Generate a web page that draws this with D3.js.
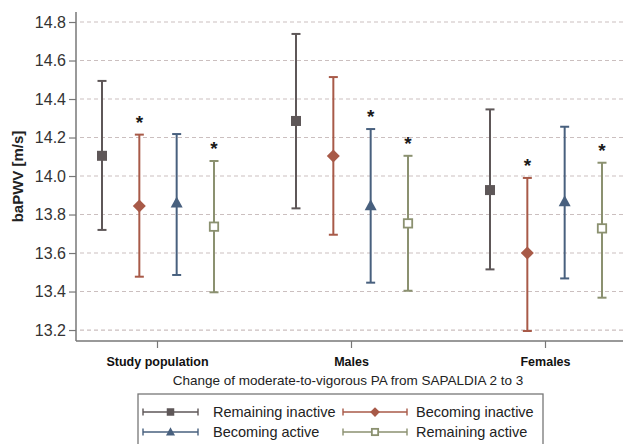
<!DOCTYPE html>
<html><head><meta charset="utf-8">
<script src="https://cdn.jsdelivr.net/npm/d3@7"></script>
<style>body{margin:0;background:#fff;}svg{display:block;font-family:"Liberation Sans",Arial,sans-serif;}</style>
</head><body><svg id="c" width="627" height="444"></svg>
<script>
const groups = ["Study population", "Males", "Females"];
const seriesNames = ["Remaining inactive", "Becoming inactive", "Becoming active", "Remaining active"];
const seriesColors = ["#5e5758", "#a85a48", "#48607e", "#8b9170"];
const seriesSymbols = ["square", "diamond", "triangle", "openSquare"];
// mean values per series, in group order
const meanRI = [14.105, 14.286, 13.927];
const meanBI = [13.844, 14.104, 13.600];
const meanBA = [13.860, 13.845, 13.866];
const meanRA = [13.737, 13.754, 13.728];
const lowRI = [13.720, 13.832, 13.515];
const lowBI = [13.477, 13.695, 13.195];
const lowBA = [13.486, 13.446, 13.468];
const lowRA = [13.396, 13.404, 13.368];
const highRI = [14.494, 14.738, 14.346];
const highBI = [14.215, 14.514, 13.990];
const highBA = [14.218, 14.244, 14.256];
const highRA = [14.078, 14.105, 14.069];
const starRI = [false, false, false];
const starBI = [true, false, true];
const starBA = [false, true, false];
const starRA = [true, true, true];
const yTicks = [13.2, 13.4, 13.6, 13.8, 14.0, 14.2, 14.4, 14.6, 14.8];
const yTitle = "baPWV [m/s]";
const xTitle = "Change of moderate-to-vigorous PA from SAPALDIA 2 to 3";

const means = [meanRI, meanBI, meanBA, meanRA];
const lows = [lowRI, lowBI, lowBA, lowRA];
const highs = [highRI, highBI, highBA, highRA];
const stars = [starRI, starBI, starBA, starRA];

const svg = d3.select("#c");
const L = 76, R = 623, T = 12, B = 341;
const y = d3.scaleLinear().domain([13.143, 14.852]).range([B, T]);
const x = d3.scalePoint().domain(groups).range([157, 545]);
const xo = d3.scalePoint().domain(seriesNames).range([-55, 57]);

// grid
svg.append("g").selectAll("line").data(yTicks).join("line")
  .attr("x1", L + 4).attr("x2", R).attr("y1", d => y(d)).attr("y2", d => y(d))
  .attr("stroke", "#cbbfbf").attr("stroke-width", 1.2).attr("stroke-dasharray", "4,3");

// y axis
const ya = svg.append("g").attr("transform", `translate(${L},0)`)
  .call(d3.axisLeft(y).tickValues(yTicks).tickFormat(d3.format(".1f")).tickSize(7).tickPadding(3));
ya.select(".domain").attr("d", `M0,${T}V${B}`).attr("stroke", "#777").attr("stroke-width", 1.5);
ya.selectAll(".tick line").attr("stroke", "#777").attr("stroke-width", 1.2);
ya.selectAll(".tick text").attr("font-size", 16).attr("fill", "#333").attr("font-family", "Liberation Sans, Arial, sans-serif");

// x axis
const xa = svg.append("g").attr("transform", `translate(0,${B})`)
  .call(d3.axisBottom(x).tickSize(7).tickPadding(9));
xa.select(".domain").attr("d", `M${L},0H${R}`).attr("stroke", "#777").attr("stroke-width", 1.5);
xa.selectAll(".tick line").attr("stroke", "#777").attr("stroke-width", 1.2);
xa.selectAll(".tick text").attr("font-size", 12.5).attr("font-weight", "bold").attr("fill", "#111")
  .attr("font-family", "Liberation Sans, Arial, sans-serif");

// titles
svg.append("text").attr("x", 348).attr("y", 385).attr("text-anchor", "middle")
  .attr("font-size", 13.5).attr("fill", "#222").text(xTitle);
svg.append("text").attr("transform", `translate(23,${(T + B) / 2}) rotate(-90)`).attr("text-anchor", "middle")
  .attr("font-size", 15).attr("font-weight", "bold").attr("fill", "#222").text(yTitle);

function drawSymbol(g, kind, cx, cy, color, scale) {
  const s = scale || 1;
  if (kind === "square") {
    g.append("rect").attr("x", cx - 5 * s).attr("y", cy - 5 * s).attr("width", 10 * s).attr("height", 10 * s).attr("fill", color);
  } else if (kind === "diamond") {
    g.append("path").attr("d", `M${cx},${cy - 6.5 * s}L${cx + 6.5 * s},${cy}L${cx},${cy + 6.5 * s}L${cx - 6.5 * s},${cy}Z`).attr("fill", color);
  } else if (kind === "triangle") {
    g.append("path").attr("d", `M${cx},${cy - 6.5 * s}L${cx + 6 * s},${cy + 4.5 * s}L${cx - 6 * s},${cy + 4.5 * s}Z`).attr("fill", color);
  } else {
    g.append("rect").attr("x", cx - 4.2 * s).attr("y", cy - 4.2 * s).attr("width", 8.4 * s).attr("height", 8.4 * s)
      .attr("fill", "#fff").attr("stroke", color).attr("stroke-width", 1.8);
  }
}

// error bars
seriesNames.forEach((sn, si) => {
  const g = svg.append("g");
  const col = seriesColors[si];
  groups.forEach((gn, gi) => {
    const cx = x(gn) + xo(sn);
    const lo = y(lows[si][gi]), hi = y(highs[si][gi]);
    g.append("line").attr("x1", cx).attr("x2", cx).attr("y1", lo).attr("y2", hi).attr("stroke", col).attr("stroke-width", 2);
    g.append("line").attr("x1", cx - 4.5).attr("x2", cx + 4.5).attr("y1", lo).attr("y2", lo).attr("stroke", col).attr("stroke-width", 2);
    g.append("line").attr("x1", cx - 4.5).attr("x2", cx + 4.5).attr("y1", hi).attr("y2", hi).attr("stroke", col).attr("stroke-width", 2);
    drawSymbol(g, seriesSymbols[si], cx, y(means[si][gi]), col, 1);
    if (stars[si][gi]) {
      g.append("text").attr("x", cx).attr("y", hi - 6).attr("text-anchor", "middle")
        .attr("font-size", 19).attr("font-weight", "bold").attr("fill", "#1a1a1a").text("*");
    }
  });
});

// legend
const lg = svg.append("g");
lg.append("rect").attr("x", 138).attr("y", 394).attr("width", 405).attr("height", 60)
  .attr("fill", "#fff").attr("stroke", "#777").attr("stroke-width", 1.3);
const legPos = [[143, 412], [343, 412], [143, 432], [343, 432]];
seriesNames.forEach((sn, si) => {
  const [lx, ly] = legPos[si];
  const w = si % 2 === 0 ? 55 : 64;
  const col = seriesColors[si];
  lg.append("line").attr("x1", lx).attr("x2", lx + w).attr("y1", ly).attr("y2", ly).attr("stroke", col).attr("stroke-width", 1.6);
  lg.append("line").attr("x1", lx).attr("x2", lx).attr("y1", ly - 3.5).attr("y2", ly + 3.5).attr("stroke", col).attr("stroke-width", 1.4);
  lg.append("line").attr("x1", lx + w).attr("x2", lx + w).attr("y1", ly - 3.5).attr("y2", ly + 3.5).attr("stroke", col).attr("stroke-width", 1.4);
  drawSymbol(lg, seriesSymbols[si], lx + w / 2, ly, col, 0.75);
  lg.append("text").attr("x", lx + w + (si % 2 === 0 ? 15 : 9)).attr("y", ly + 5)
    .attr("font-size", 14.5).attr("fill", "#222").text(sn);
});
</script></body></html>
